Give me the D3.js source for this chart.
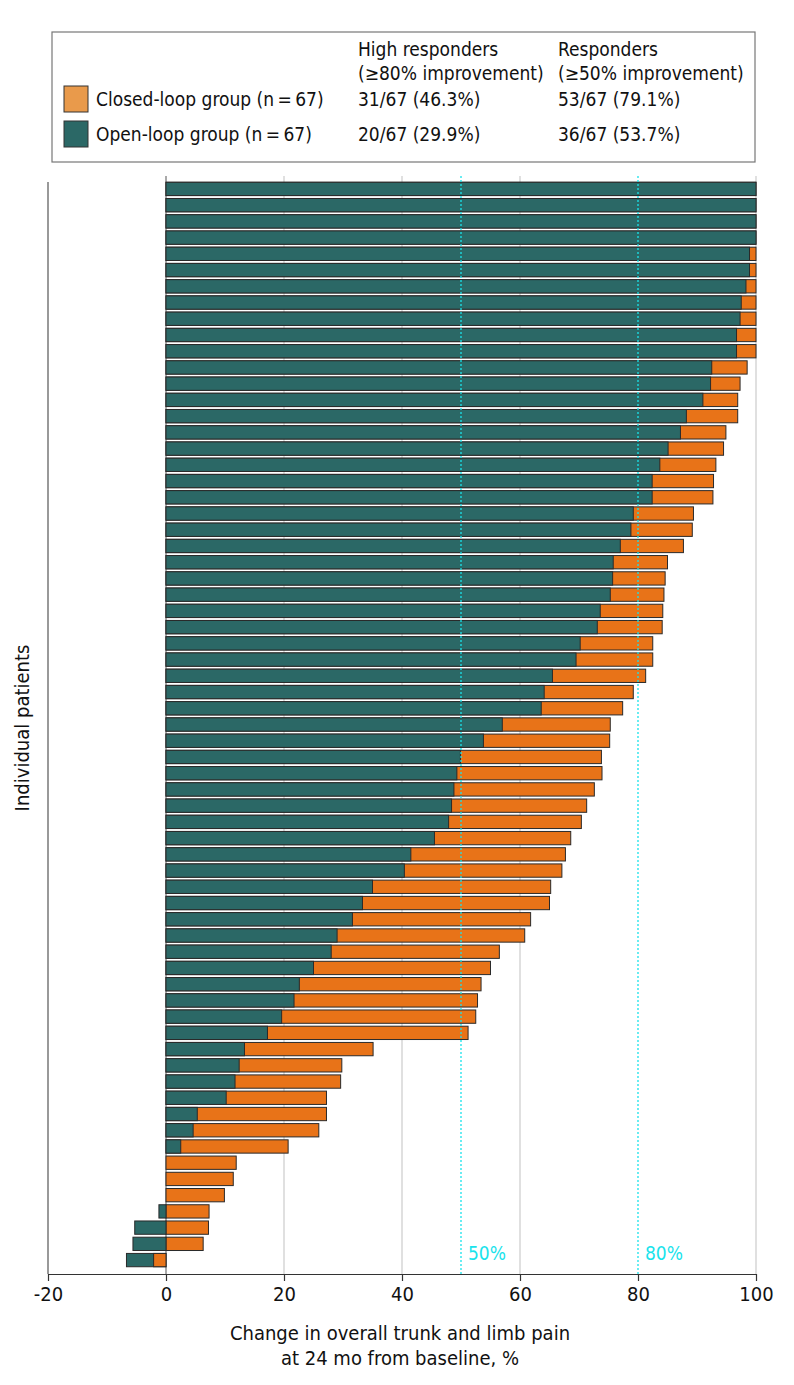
<!DOCTYPE html>
<html>
<head>
<meta charset="utf-8">
<script src="https://cdn.jsdelivr.net/npm/d3@7"></script>
<style>
  body { margin: 0; background: #fff; }
  svg text { font-family: "Liberation Sans Narrow", "DejaVu Sans Condensed", "Roboto", sans-serif; fill: #111; }
</style>
</head>
<body>
<svg id="chart" width="794" height="1385"></svg>
<script>
// open-loop (teal) and closed-loop (orange) change in pain, one value per patient row (top to bottom)
var openLoop = [100, 100, 100, 100, 98.9, 98.9, 98.3, 97.5, 97.3, 96.7, 96.7,
  92.5, 92.3, 91.0, 88.2, 87.2, 85.1, 83.7, 82.4, 82.4, 79.2, 78.8, 77.0,
  75.8, 75.7, 75.3, 73.6, 73.1, 70.2, 69.5, 65.5, 64.1, 63.6, 57.0, 53.8,
  49.9, 49.3, 48.8, 48.4, 47.9, 45.5, 41.5, 40.4, 35.0, 33.3, 31.6, 29.0,
  28.0, 25.0, 22.6, 21.7, 19.6, 17.2, 13.3, 12.4, 11.7, 10.2, 5.3, 4.6,
  2.5, 0, 0, 0, -1.2, -5.3, -5.6, -6.7];
var closedLoop = [100, 100, 100, 100, 100, 100, 100, 100, 100, 100, 100,
  98.5, 97.3, 96.9, 96.9, 94.9, 94.5, 93.2, 92.8, 92.7, 89.4, 89.2, 87.7,
  85.0, 84.6, 84.4, 84.2, 84.1, 82.5, 82.5, 81.3, 79.2, 77.4, 75.3, 75.2,
  73.8, 73.9, 72.6, 71.3, 70.4, 68.6, 67.7, 67.1, 65.2, 65.0, 61.8, 60.8,
  56.5, 55.0, 53.4, 52.8, 52.5, 51.2, 35.1, 29.8, 29.6, 27.2, 27.2, 25.9,
  20.7, 11.9, 11.4, 9.9, 7.3, 7.2, 6.3, -2.1];

var xTicks = [-20, 0, 20, 40, 60, 80, 100];
var xTickLabels = ["-20", "0", "20", "40", "60", "80", "100"];
var gridTicks = [20, 40, 60, 100];
var thresholds = [50, 80];
var thresholdLabels = ["50%", "80%"];

var legendHeaders = [["High responders", "(≥80% improvement)"], ["Responders", "(≥50% improvement)"]];
var legendGroups = ["Closed-loop group (n\u2009=\u200967)", "Open-loop group (n\u2009=\u200967)"];
var legendHigh = ["31/67 (46.3%)", "20/67 (29.9%)"];
var legendResp = ["53/67 (79.1%)", "36/67 (53.7%)"];

var TEAL = "#2b6866", ORANGE = "#e87318", ORANGE_LIGHT = "#e99a4b", CYAN = "#19e3ec";

var svg = d3.select("#chart");

var x = d3.scaleLinear().domain([-20, 100]).range([48, 756]);
var y = d3.scaleBand()
    .domain(d3.range(openLoop.length))
    .range([180.8, 1268.2])
    .paddingInner(0.18)
    .paddingOuter(0.09);

var plotTop = 176, plotBottom = 1274;

// gridlines
svg.append("g").selectAll("line")
    .data(gridTicks)
    .enter().append("line")
    .attr("x1", function (d) { return x(d); })
    .attr("x2", function (d) { return x(d); })
    .attr("y1", plotTop)
    .attr("y2", plotBottom)
    .attr("stroke", "#d6d6d6")
    .attr("stroke-width", 1.5);

// zero line
svg.append("line")
    .attr("x1", x(0)).attr("x2", x(0))
    .attr("y1", plotTop).attr("y2", plotBottom)
    .attr("stroke", "#555").attr("stroke-width", 1);

// bars: for each row draw the longer bar first so the shorter one sits on top
var rows = openLoop.map(function (v, i) {
    var pair = [
        { row: i, value: closedLoop[i], color: ORANGE },
        { row: i, value: v, color: TEAL }
    ];
    if (Math.abs(pair[1].value) > Math.abs(pair[0].value)) pair.reverse();
    return pair;
});

var barG = svg.append("g");
barG.selectAll("g.row")
    .data(rows)
    .enter().append("g")
    .attr("class", "row")
    .selectAll("rect")
    .data(function (d) { return d.filter(function (b) { return b.value !== 0; }); })
    .enter().append("rect")
    .attr("x", function (d) { return x(Math.min(0, d.value)); })
    .attr("width", function (d) { return Math.abs(x(d.value) - x(0)); })
    .attr("y", function (d) { return y(d.row); })
    .attr("height", y.bandwidth())
    .attr("fill", function (d) { return d.color; })
    .attr("stroke", "#2a2a2a")
    .attr("stroke-width", 1);

// threshold lines
svg.append("g").selectAll("line")
    .data(thresholds)
    .enter().append("line")
    .attr("x1", function (d) { return x(d); })
    .attr("x2", function (d) { return x(d); })
    .attr("y1", plotTop)
    .attr("y2", plotBottom)
    .attr("stroke", CYAN)
    .attr("stroke-width", 1.3)
    .attr("stroke-dasharray", "2,2");

svg.append("g").selectAll("text")
    .data(thresholds)
    .enter().append("text")
    .attr("x", function (d) { return x(d) + 7; })
    .attr("y", 1260)
    .style("fill", CYAN)
    .style("font-size", "19px")
    .text(function (d, i) { return thresholdLabels[i]; });

// left axis line
svg.append("line")
    .attr("x1", 48).attr("x2", 48)
    .attr("y1", 182).attr("y2", plotBottom)
    .attr("stroke", "#555").attr("stroke-width", 1.2);

// x axis
var xAxis = svg.append("g")
    .attr("transform", "translate(0," + plotBottom + ")")
    .call(d3.axisBottom(x).tickValues(xTicks).tickSize(7).tickSizeOuter(0).tickPadding(6)
        .tickFormat(function (d, i) { return xTickLabels[i]; }));
xAxis.select(".domain").attr("stroke", "#333").attr("stroke-width", 1.2);
xAxis.selectAll(".tick line").attr("stroke", "#333").attr("stroke-width", 1.2);
xAxis.selectAll(".tick text").style("font-size", "20px").attr("fill", "#111");

svg.append("text")
    .attr("x", 400).attr("y", 1340)
    .attr("text-anchor", "middle")
    .style("font-size", "20px")
    .text("Change in overall trunk and limb pain");
svg.append("text")
    .attr("x", 400).attr("y", 1365)
    .attr("text-anchor", "middle")
    .style("font-size", "20px")
    .text("at 24 mo from baseline, %");

svg.append("text")
    .attr("transform", "translate(29,728) rotate(-90)")
    .attr("text-anchor", "middle")
    .style("font-size", "20px")
    .text("Individual patients");

// legend box
var legend = svg.append("g");
legend.append("rect")
    .attr("x", 52).attr("y", 32)
    .attr("width", 703).attr("height", 130)
    .attr("fill", "#fff")
    .attr("stroke", "#777")
    .attr("stroke-width", 1.2);

var colX = [358, 558];
legendHeaders.forEach(function (lines, c) {
    lines.forEach(function (t, k) {
        legend.append("text")
            .attr("x", colX[c]).attr("y", 56 + k * 24)
            .style("font-size", "19px")
            .text(t);
    });
});

var swatchColors = [ORANGE_LIGHT, TEAL];
legendGroups.forEach(function (g, r) {
    var yy = 86 + r * 35;
    legend.append("rect")
        .attr("x", 64).attr("y", yy)
        .attr("width", 24).attr("height", 26)
        .attr("fill", swatchColors[r])
        .attr("stroke", "#333").attr("stroke-width", 1);
    legend.append("text").attr("x", 96).attr("y", yy + 20).style("font-size", "19px").text(g);
    legend.append("text").attr("x", colX[0]).attr("y", yy + 20).style("font-size", "19px").text(legendHigh[r]);
    legend.append("text").attr("x", colX[1]).attr("y", yy + 20).style("font-size", "19px").text(legendResp[r]);
});
</script>
</body>
</html>
